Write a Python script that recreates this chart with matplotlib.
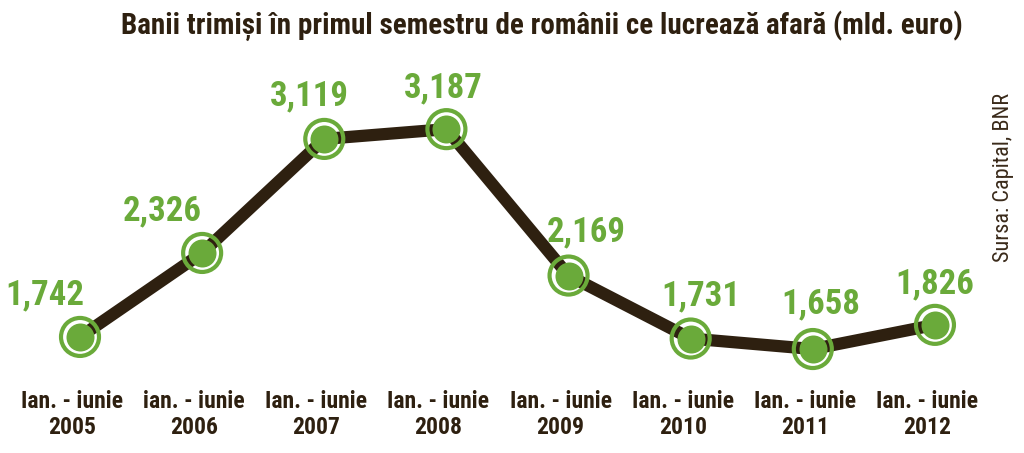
import matplotlib
matplotlib.use("Agg")
import matplotlib.pyplot as plt
from matplotlib import font_manager as fm

years = ["2005", "2006", "2007", "2008", "2009", "2010", "2011", "2012"]
prefixes = ["Ian. - iunie", "ian. - iunie", "Ian. - iunie", "Ian. - iunie",
            "Ian. - iunie", "Ian. - iunie", "Ian. - iunie", "Ian. - iunie"]
values = [1.742, 2.326, 3.119, 3.187, 2.169, 1.731, 1.658, 1.826]
value_labels = ["1,742", "2,326", "3,119", "3,187", "2,169", "1,731", "1,658", "1,826"]
title = "Banii trimiși în primul semestru de românii ce lucrează afară (mld. euro)"
source = "Sursa: Capital, BNR"

names = {f.name for f in fm.fontManager.ttflist}
fam = "Liberation Sans"
for cand in ["Roboto Condensed", "Archivo Narrow", "Barlow Condensed",
             "Asap Condensed", "Liberation Sans Narrow"]:
    if cand in names:
        fam = cand
        break
FAM = [fam, "DejaVu Sans"]

BROWN = "#2e2010"
GREEN = "#6aaa3a"

W, H = 1024, 453
fig = plt.figure(figsize=(W / 100, H / 100), dpi=100)
ax = fig.add_axes([0, 0, 1, 1])
ax.set_xlim(-0.655, 7.729)
ax.set_ylim(0.935, 4.085)
ax.axis("off")

x = list(range(len(values)))
ax.plot(x, values, color=BROWN, lw=8.8, solid_capstyle="butt", zorder=1)
ax.scatter(x, values, s=(38 * 0.72) ** 2, facecolors="none", edgecolors=GREEN,
           linewidths=3.0, zorder=2)
ax.scatter(x, values, s=(28 * 0.72) ** 2, color=GREEN, linewidths=0, zorder=3)

offsets = [(-35, 42), (-40, 42), (-15, 43), (-3, 41), (18, 44), (10, 43), (8, 45), (0, 41)]
for xi, v, lab, (dx, dy) in zip(x, values, value_labels, offsets):
    ax.annotate(lab, (xi, v), xytext=(dx * 0.72, dy * 0.72), textcoords="offset points",
                ha="center", va="center", fontsize=25, fontweight="bold",
                color=GREEN, family=FAM, zorder=4)

for xi, p, yr in zip(x, prefixes, years):
    ax.annotate(p, (xi, 0), xycoords=("data", "figure fraction"),
                xytext=(-8 * 0.72, (453 - 401) * 0.72), textcoords="offset points",
                ha="center", va="center", fontsize=17, fontweight="bold",
                color=BROWN, family=FAM)
    ax.annotate(yr, (xi, 0), xycoords=("data", "figure fraction"),
                xytext=(-8 * 0.72, (453 - 428) * 0.72), textcoords="offset points",
                ha="center", va="center", fontsize=17, fontweight="bold",
                color=BROWN, family=FAM)

fig.text(542 / W, 1 - 26 / H, title, ha="center", va="center", fontsize=21,
         fontweight="bold", color=BROWN, family=FAM)
fig.text(1003 / W, 1 - 177 / H, source, ha="center", va="center", rotation=90,
         fontsize=16, color="#3a2a1a", family=FAM)

fig.savefig("out.png", dpi=100)
